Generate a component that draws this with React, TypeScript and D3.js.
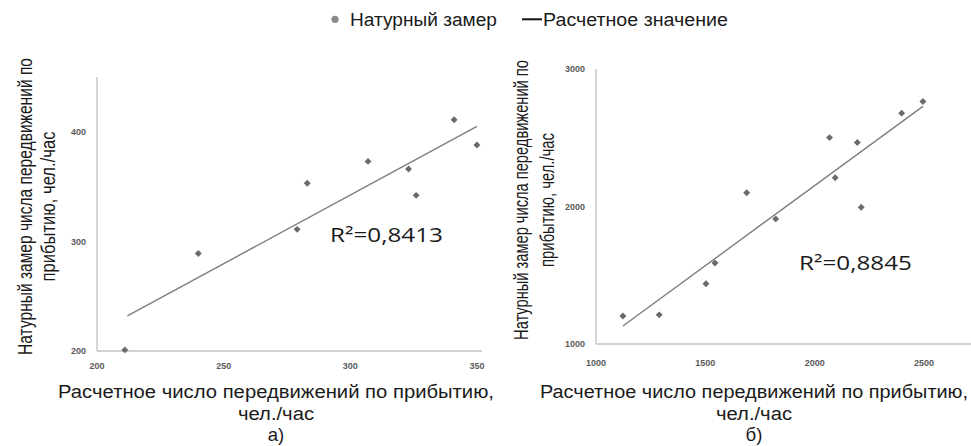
import React, { useLayoutEffect, useRef, useState } from "react";
import * as d3 from "d3";

// Panel а): computed vs. measured arrivals (чел./час)
const calcA = [211, 240, 279, 283, 307, 323, 326, 341, 350];
const measA = [201, 289, 311, 353, 373, 366, 342, 411, 388];
const trendAx = [212, 350];
const trendAy = [232, 405];
const ticksAx = [200, 250, 300, 350];
const ticksAy = [200, 300, 400];

// Panel б)
const calcB = [1123, 1289, 1503, 1544, 1689, 1822, 2068, 2094, 2195, 2213, 2398, 2495];
const measB = [1204, 1212, 1438, 1589, 2100, 1910, 2501, 2209, 2465, 1995, 2679, 2764];
const trendBx = [1123, 2495];
const trendBy = [1131, 2728];
const ticksBx = [1000, 1500, 2000, 2500];
const ticksBy = [1000, 2000, 3000];

const r2Labels = ["R²=0,8413", "R²=0,8845"];
const legendLabels = ["Натурный замер", "Расчетное значение"];
const xTitle = ["Расчетное число передвижений по прибытию,", "чел./час"];
const yTitle = ["Натурный замер числа передвижений по", "прибытию, чел./час"];
const panelTags = ["а)", "б)"];

const W = 971;
const H = 446;
const FONT = "'Liberation Sans', Arial, sans-serif";
const AXIS = "#d2d2d2";
const MARK = "#6a6a6a";
const TREND = "#7d7d7d";
const TICK = "#5a5a5a";
const TEXT = "#1a1a1a";

// Text squeezed horizontally to a target width (condensed face look)
function FitText({
  x,
  y,
  rotate = 0,
  width,
  anchor = "start",
  children,
  ...rest
}: {
  x: number;
  y: number;
  rotate?: number;
  width: number;
  anchor?: "start" | "middle" | "end";
  children: string;
  [k: string]: any;
}) {
  const ref = useRef<SVGTextElement>(null);
  const [sx, setSx] = useState(1);
  useLayoutEffect(() => {
    if (ref.current) {
      const w = ref.current.getComputedTextLength();
      if (w > 0) setSx(width / w);
    }
  }, [width, children]);
  return (
    <text
      ref={ref}
      transform={`translate(${x},${y}) rotate(${rotate}) scale(${sx},1)`}
      textAnchor={anchor}
      {...rest}
    >
      {children}
    </text>
  );
}

type PanelProps = {
  xs: number[];
  ys: number[];
  tx: number[];
  ty: number[];
  xTicks: number[];
  yTicks: number[];
  x: d3.ScaleLinear<number, number>;
  y: d3.ScaleLinear<number, number>;
  r2: string;
  r2Pos: [number, number];
  xTickY: number;
};

function Panel({ xs, ys, tx, ty, xTicks, yTicks, x, y, r2, r2Pos, xTickY }: PanelProps) {
  const [x0, x1] = x.range();
  const [y0, y1] = y.range();
  const line = d3
    .line<number>()
    .x((d) => x(d))
    .y((_, i) => y(ty[i]));
  const marker = d3.symbol(d3.symbolSquare, 24)() as string;
  return (
    <g>
      <line x1={x0} x2={x0} y1={y0} y2={y1} stroke={AXIS} strokeWidth={1.8} />
      <line x1={x0} x2={x1} y1={y0} y2={y0} stroke={AXIS} strokeWidth={1.8} />
      {yTicks.map((t) => (
        <text
          key={"y" + t}
          x={x0 - 11}
          y={y(t)}
          dy="0.35em"
          textAnchor="end"
          fontSize={9}
          fontWeight="bold"
          fill={TICK}
          fontFamily={FONT}
        >
          {t}
        </text>
      ))}
      {xTicks.map((t) => (
        <text
          key={"x" + t}
          x={x(t)}
          y={xTickY}
          dy="0.35em"
          textAnchor="middle"
          fontSize={9}
          fontWeight="bold"
          fill={TICK}
          fontFamily={FONT}
        >
          {t}
        </text>
      ))}
      <path d={line(tx) || ""} fill="none" stroke={TREND} strokeWidth={1.4} />
      {xs.map((v, i) => (
        <path
          key={i}
          d={marker}
          transform={`translate(${x(v)},${y(ys[i])}) rotate(45)`}
          fill={MARK}
        />
      ))}
      <FitText
        x={r2Pos[0]}
        y={r2Pos[1]}
        width={113}
        fontSize={19.5}
        fill={TEXT}
        fontFamily="'Open Sans', 'Liberation Sans', sans-serif"
      >
        {r2}
      </FitText>
    </g>
  );
}

function YTitle({ cy, b1, b2, l1, l2 }: { cy: number; b1: number; b2: number; l1: number; l2: number }) {
  return (
    <g fontFamily={FONT} fontSize={20.5} fill={TEXT}>
      <FitText x={b1} y={cy} rotate={-90} width={l1} anchor="middle">
        {yTitle[0]}
      </FitText>
      <FitText x={b2} y={cy} rotate={-90} width={l2} anchor="middle">
        {yTitle[1]}
      </FitText>
    </g>
  );
}

function XTitle({ cx, tag, w1 }: { cx: number; tag: string; w1: number }) {
  return (
    <g fontFamily={FONT} fontSize={18.6} fill={TEXT}>
      <FitText x={cx} y={398} width={w1} anchor="middle">
        {xTitle[0]}
      </FitText>
      <FitText x={cx} y={420} width={76} anchor="middle">
        {xTitle[1]}
      </FitText>
      <text x={cx} y={441} textAnchor="middle">
        {tag}
      </text>
    </g>
  );
}

export default function App() {
  const xA = d3.scaleLinear().domain([200, 352]).range([97, 482]);
  const yA = d3.scaleLinear().domain([200, 450]).range([351, 77]);
  const xB = d3.scaleLinear().domain([1000, 2715]).range([596, 971]);
  const yB = d3.scaleLinear().domain([1000, 3000]).range([344, 69]);

  return (
    <svg
      width={W}
      height={H}
      viewBox={`0 0 ${W} ${H}`}
      style={{ position: "absolute", left: 0, top: 0, background: "#fff" }}
    >
      <rect width={W} height={H} fill="#fff" />

      {/* legend */}
      <g fontFamily={FONT} fontSize={18.6} fill={TEXT}>
        <circle cx={335} cy={19.3} r={3.6} fill="#8a8a8a" />
        <FitText x={350} y={25.7} width={147}>
          {legendLabels[0]}
        </FitText>
        <line x1={522} x2={542} y1={19.3} y2={19.3} stroke="#111" strokeWidth={2} />
        <FitText x={543} y={25.7} width={185}>
          {legendLabels[1]}
        </FitText>
      </g>

      <Panel
        xs={calcA}
        ys={measA}
        tx={trendAx}
        ty={trendAy}
        xTicks={ticksAx}
        yTicks={ticksAy}
        x={xA}
        y={yA}
        r2={r2Labels[0]}
        r2Pos={[330, 241.7]}
        xTickY={366}
      />
      <Panel
        xs={calcB}
        ys={measB}
        tx={trendBx}
        ty={trendBy}
        xTicks={ticksBx}
        yTicks={ticksBy}
        x={xB}
        y={yB}
        r2={r2Labels[1]}
        r2Pos={[799, 270]}
        xTickY={363}
      />

      <YTitle cy={206.5} b1={31.5} b2={55} l1={297} l2={150} />
      <YTitle cy={200} b1={527.5} b2={554} l1={280} l2={134} />

      <XTitle cx={276} tag={panelTags[0]} w1={436} />
      <XTitle cx={754} tag={panelTags[1]} w1={428} />
    </svg>
  );
}
